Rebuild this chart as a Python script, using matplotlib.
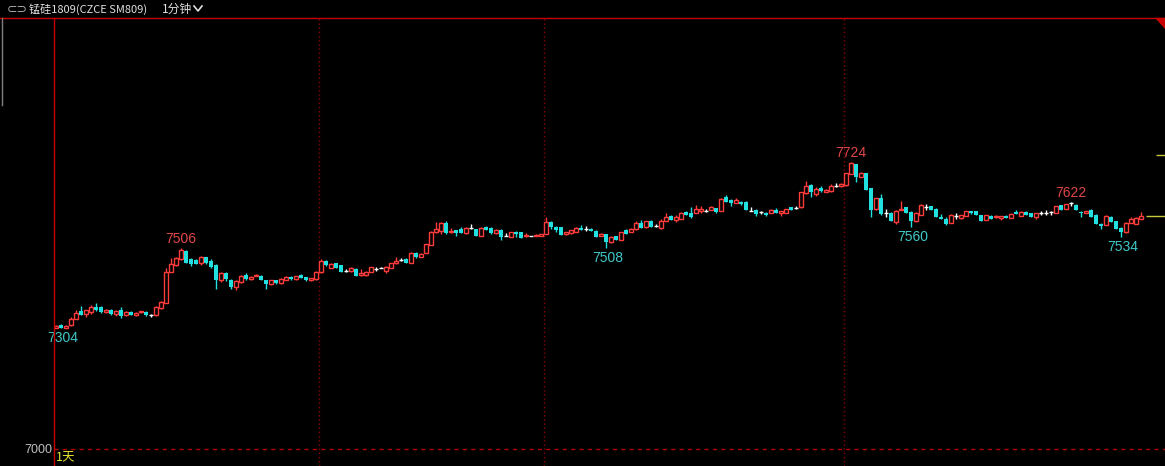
import numpy as np
import matplotlib.pyplot as plt
from matplotlib.lines import Line2D
from matplotlib.patches import Polygon

# 1-minute bars, SM809
opens = [7306,7313,7304,7313,7329,7347,7341,7346,7359,7357,
         7346,7351,7340,7351,7338,7346,7338,7345,7346,7337,
         7337,7356,7369,7447,7465,7478,7500,7479,7476,7468,
         7483,7473,7465,7425,7443,7426,7408,7421,7438,7428,
         7436,7436,7426,7415,7426,7418,7426,7433,7428,7438,
         7433,7425,7428,7447,7475,7457,7468,7463,7450,7448,
         7455,7438,7440,7447,7455,7457,7450,7457,7468,7477,
         7479,7470,7495,7485,7494,7515,7546,7551,7571,7546,
         7552,7555,7544,7558,7554,7537,7559,7558,7545,7552,
         7537,7535,7547,7547,7536,7537,7537,7537,7542,7573,
         7561,7559,7541,7544,7548,7558,7556,7556,7551,7538,
         7542,7522,7536,7527,7553,7547,7554,7569,7559,7576,
         7563,7557,7576,7588,7578,7581,7598,7596,7596,7600,
         7601,7603,7608,7601,7635,7629,7621,7624,7623,7601,
         7603,7598,7596,7596,7603,7596,7596,7610,7608,7610,
         7645,7667,7643,7658,7649,7650,7664,7662,7665,7694,
         7719,7686,7696,7658,7605,7633,7595,7596,7573,7603,
         7610,7598,7575,7590,7611,7613,7606,7585,7581,7571,
         7588,7582,7588,7600,7600,7590,7578,7588,7584,7582,
         7588,7583,7598,7588,7598,7595,7586,7595,7596,7598,
         7596,7615,7605,7620,7616,7598,7596,7603,7591,7568,
         7565,7586,7574,7558,7546,7571,7568,7581]
highs = [7313,7314,7312,7333,7351,7361,7351,7362,7369,7360,
         7353,7352,7351,7357,7348,7347,7346,7347,7347,7340,
         7360,7374,7457,7482,7485,7506,7502,7481,7478,7487,
         7485,7478,7466,7446,7446,7428,7426,7438,7443,7436,
         7441,7438,7427,7426,7427,7430,7436,7435,7437,7441,
         7434,7432,7449,7478,7477,7468,7469,7464,7454,7458,
         7456,7455,7448,7460,7460,7459,7462,7469,7484,7481,
         7482,7496,7497,7494,7518,7549,7573,7573,7575,7558,
         7553,7560,7560,7568,7556,7559,7563,7560,7555,7554,
         7544,7548,7549,7548,7544,7538,7541,7542,7586,7576,
         7562,7560,7548,7553,7561,7566,7562,7557,7552,7545,
         7543,7536,7537,7548,7556,7557,7576,7578,7576,7578,
         7568,7580,7595,7590,7590,7598,7600,7610,7616,7613,
         7606,7612,7609,7632,7640,7631,7634,7626,7625,7610,
         7604,7599,7597,7604,7607,7601,7606,7611,7612,7649,
         7675,7668,7661,7664,7656,7669,7670,7670,7697,7724,
         7720,7698,7697,7659,7634,7643,7605,7597,7602,7625,
         7611,7599,7597,7618,7617,7614,7607,7592,7585,7592,
         7594,7590,7601,7601,7601,7591,7591,7589,7589,7588,
         7589,7594,7602,7599,7599,7596,7596,7600,7602,7600,
         7614,7616,7619,7622,7617,7599,7600,7604,7592,7569,
         7589,7587,7575,7559,7572,7586,7585,7598]
lows = [7305,7304,7305,7309,7327,7337,7332,7341,7349,7343,
        7343,7339,7336,7331,7336,7338,7336,7344,7336,7334,
        7336,7353,7368,7447,7461,7476,7468,7462,7467,7465,
        7467,7456,7404,7422,7424,7404,7402,7418,7425,7427,
        7435,7425,7404,7414,7417,7417,7425,7427,7427,7430,
        7423,7424,7427,7443,7462,7456,7456,7446,7447,7447,
        7436,7437,7435,7446,7450,7456,7445,7456,7467,7474,
        7468,7468,7482,7484,7493,7514,7545,7541,7543,7545,
        7536,7544,7543,7554,7536,7536,7552,7543,7542,7528,
        7536,7534,7535,7531,7535,7536,7536,7536,7541,7555,
        7547,7539,7540,7543,7547,7552,7551,7549,7535,7536,
        7508,7520,7527,7526,7542,7546,7553,7557,7558,7561,
        7560,7555,7575,7578,7573,7580,7590,7582,7595,7596,
        7598,7602,7596,7600,7623,7613,7620,7616,7603,7600,
        7588,7592,7588,7595,7594,7587,7595,7603,7604,7609,
        7644,7635,7637,7648,7648,7649,7660,7661,7664,7693,
        7674,7685,7653,7586,7603,7590,7586,7576,7568,7602,
        7596,7560,7573,7589,7603,7603,7586,7581,7565,7570,
        7580,7581,7587,7593,7590,7576,7577,7580,7583,7578,
        7583,7582,7593,7587,7591,7586,7581,7590,7591,7591,
        7595,7603,7604,7614,7603,7584,7595,7586,7568,7555,
        7564,7572,7556,7534,7545,7570,7567,7580]
closes = [7311,7306,7311,7329,7344,7339,7351,7358,7351,7346,
          7350,7340,7348,7336,7346,7338,7344,7347,7337,7337,
          7357,7371,7447,7467,7482,7502,7470,7467,7467,7485,
          7468,7460,7426,7443,7428,7408,7423,7435,7428,7434,
          7440,7425,7415,7426,7418,7429,7434,7428,7436,7430,
          7425,7431,7447,7475,7463,7467,7457,7447,7450,7457,
          7436,7443,7447,7458,7455,7457,7460,7468,7475,7477,
          7470,7494,7484,7491,7517,7548,7556,7571,7544,7549,
          7544,7544,7558,7558,7537,7558,7553,7544,7552,7535,
          7537,7547,7541,7532,7538,7537,7540,7541,7573,7559,
          7553,7539,7548,7552,7558,7552,7556,7549,7535,7543,
          7522,7534,7527,7547,7542,7556,7569,7557,7574,7561,
          7563,7574,7586,7578,7586,7596,7590,7584,7606,7604,
          7601,7610,7598,7631,7623,7621,7629,7617,7603,7601,
          7593,7598,7589,7603,7595,7600,7605,7603,7608,7648,
          7662,7647,7655,7650,7653,7664,7664,7669,7696,7721,
          7686,7697,7653,7603,7632,7593,7595,7576,7601,7605,
          7596,7576,7596,7615,7611,7603,7586,7581,7568,7590,
          7588,7589,7600,7594,7590,7576,7590,7580,7588,7587,
          7583,7593,7593,7598,7591,7586,7595,7595,7596,7598,
          7613,7603,7618,7620,7603,7595,7599,7586,7568,7563,
          7588,7572,7556,7546,7571,7580,7583,7588]

# marked extremes: (bar index, 'high' or 'low')
extremes = [(1, 'low'), (25, 'high'), (110, 'low'), (159, 'high'),
            (171, 'low'), (203, 'high'), (213, 'low')]
session_breaks = [52.6, 97.6, 157.6]
base_price = 7000
upper_mark = 7742

RED = '#ff3c3c'
CYAN = '#20e0e0'
W, H = 1165, 466


def px(x, y):
    return x / W, 1 - y / H


o = np.array(opens, float)
h = np.array(highs, float)
l = np.array(lows, float)
c = np.array(closes, float)
x = np.arange(len(o))
up = c > o
dn = c < o
flat = c == o

fig = plt.figure(figsize=(W / 100, H / 100), dpi=100, facecolor='black')
ax = fig.add_axes([54 / W, 0, (W - 54) / W, (H - 18) / H], facecolor='black')
ax.set_xlim(-0.4, 221.8)
ax.set_ylim(6957, 8087)
for s in ['top', 'right', 'bottom']:
    ax.spines[s].set_visible(False)
ax.spines['left'].set_color('#c80000')
ax.spines['left'].set_linewidth(1)
ax.spines['left'].set_zorder(5)
ax.set_xticks([])
ax.set_yticks([])

for v in session_breaks:
    ax.axvline(v, color='#900000', ls=(0, (1, 2)), lw=1)
ax.axhline(base_price, color='#b00000', ls=(0, (3, 3)), lw=1)

# candles
ax.vlines(x[up], l[up], h[up], color=RED, lw=1, zorder=2)
ax.vlines(x[dn], l[dn], h[dn], color=CYAN, lw=1, zorder=2)
ax.vlines(x[flat], l[flat], h[flat], color='white', lw=1, zorder=2)
ax.bar(x[up], np.maximum(c[up] - o[up], 2.5), bottom=o[up], width=0.7,
       facecolor='black', edgecolor=RED, lw=1, zorder=3)
ax.bar(x[dn], np.maximum(o[dn] - c[dn], 2.5), bottom=c[dn], width=0.8,
       color=CYAN, lw=0, zorder=3)
ax.hlines(c[flat], x[flat] - 0.4, x[flat] + 0.4, color='white', lw=1, zorder=3)

for i, kind in extremes:
    if kind == 'high':
        t = ax.annotate(str(int(h[i])), (i, h[i]), xytext=(0, 9), textcoords='offset pixels',
                        ha='center', va='center', color='#e04848', fontsize=10,
                        family='Liberation Sans')
    else:
        t = ax.annotate(str(int(l[i])), (i, l[i]), xytext=(2, -10), textcoords='offset pixels',
                        ha='center', va='center', color='#40c8c8', fontsize=10,
                        family='Liberation Sans')
    t.set_clip_on(True)

# right side markers
ax.hlines(upper_mark, (1156 - 56) / 5, 221.8, color='#c8c83c', lw=1)
ax.hlines(c[-1], (1146 - 56) / 5, 221.8, color='#c8c83c', lw=1)

# header and frame
fig.add_artist(Line2D([0, 1], [1 - 18 / H] * 2, color='#c80000', lw=1))
fig.add_artist(Line2D([2 / W] * 2, [1 - 18 / H, 1 - 105 / H], color='#808080', lw=1))
fig.add_artist(Polygon([px(1156, 18), px(1165, 18), px(1165, 28)], closed=True,
                       color='#c80000', transform=fig.transFigure))
cjk = ['Noto Sans CJK SC', 'DejaVu Sans']
fig.text(*px(7, 9), '⊂⊃', color='#a8a8a8', fontsize=9, va='center', family='DejaVu Sans')
fig.text(*px(29, 9), '锰硅1809(CZCE SM809)', color='#e0e0e0', fontsize=8,
         va='center', family=cjk)
fig.text(*px(162, 9), '1分钟', color='#e0e0e0', fontsize=8.5, va='center', family=cjk)
fig.add_artist(Line2D([194 / W, 198 / W, 202 / W], [1 - 6 / H, 1 - 11 / H, 1 - 6 / H],
                      color='#e0e0e0', lw=1.2))
fig.text(*px(52, 450), '7000', ha='right', va='center', color='#c0c0c0', fontsize=9,
         family='Liberation Sans')
fig.text(*px(56, 458), '1天', color='#e6e632', fontsize=9, va='center', family=cjk)

fig.savefig('out.png', dpi=100, facecolor='black')
